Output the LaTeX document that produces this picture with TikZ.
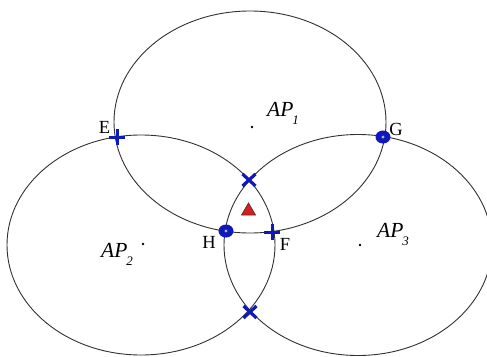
\documentclass[tikz,border=0pt]{standalone}
\usepackage{fontspec}
\setmainfont{Liberation Serif}
\usetikzlibrary{calc}
\definecolor{mk}{RGB}{15,25,185}
\definecolor{ln}{RGB}{50,50,50}
\definecolor{tri}{RGB}{215,30,30}
\newcommand\aplabel[1]{\textit{AP}\kern-1pt\raisebox{-8pt}{\fontsize{13}{13}\selectfont\textit{#1}}}
\tikzset{
  circ/.style={draw=ln, line width=0.9pt},
  lbl/.style={inner sep=0pt, font=\fontsize{18.5}{18.5}\selectfont},
  aplbl/.style={inner sep=0pt, anchor=base west, font=\fontsize{21.5}{21.5}\selectfont},
  apdot/.style={fill=black, circle, inner sep=0pt, minimum size=2.6pt},
  plusmark/.pic={\draw[mk, line width=3pt] (-8,0)--(8,0) (0,-8)--(0,8);},
  xmark/.pic={\draw[mk, line width=3.2pt] (-6.5,-6)--(6.5,6) (-6.5,6)--(6.5,-6);},
  ringmark/.pic={\fill[mk] (0,0) ellipse [x radius=7.5pt, y radius=6.5pt];
                 \fill[mk!35!white] (0,0) circle [radius=1.6pt];}
}
\begin{document}
\begin{tikzpicture}[x=1pt,y=-1pt]
\useasboundingbox (0,0) rectangle (487,356);
\fill[white] (0,0) rectangle (487,356);
\clip (0,0) rectangle (487,356);
% centres
\coordinate (C1) at (250,122);
\coordinate (C2) at (141,245);
\coordinate (C3) at (358,245);
% circles
\draw[circ] (C1) ellipse [x radius=136pt, y radius=111pt];
\draw[circ] (C2) ellipse [x radius=134pt, y radius=110pt];
\draw[circ] (C3) ellipse [x radius=134pt, y radius=110.5pt];
% AP dots and labels
\node[apdot] (d1) at (252,127) {};
\node[apdot] (d2) at (143,244) {};
\node[apdot] (d3) at (360,245) {};
\node[aplbl] (ap1) at (267,116) {\aplabel{1}};
\node[aplbl] (ap2) at (101,257) {\aplabel{2}};
\node[aplbl] (ap3) at (377,237) {\aplabel{3}};
% intersection points
\coordinate (E) at (117,137);
\coordinate (G) at (383,137);
\coordinate (H) at (226,231);
\coordinate (F) at (272,232);
\coordinate (X1) at (249,180);
\coordinate (X2) at (250,312);
\pic at (E) {plusmark};
\pic at (F) {plusmark};
\pic at (G) {ringmark};
\pic at (H) {ringmark};
\pic at (X1) {xmark};
\pic at (X2) {xmark};
% red triangle
\coordinate (T) at (248.5,209.5);
\filldraw[fill=tri, draw=ln!70!tri, line width=0.7pt]
  ($(T)+(0,-6.5)$) -- ($(T)+(7,5.5)$) -- ($(T)+(-7,5.5)$) -- cycle;
% letters
\node[lbl] (lE) at (104.5,127.5) {E};
\node[lbl] (lG) at (396,129) {G};
\node[lbl] (lH) at (209,242) {H};
\node[lbl] (lF) at (285,244) {F};
\end{tikzpicture}
\end{document}
